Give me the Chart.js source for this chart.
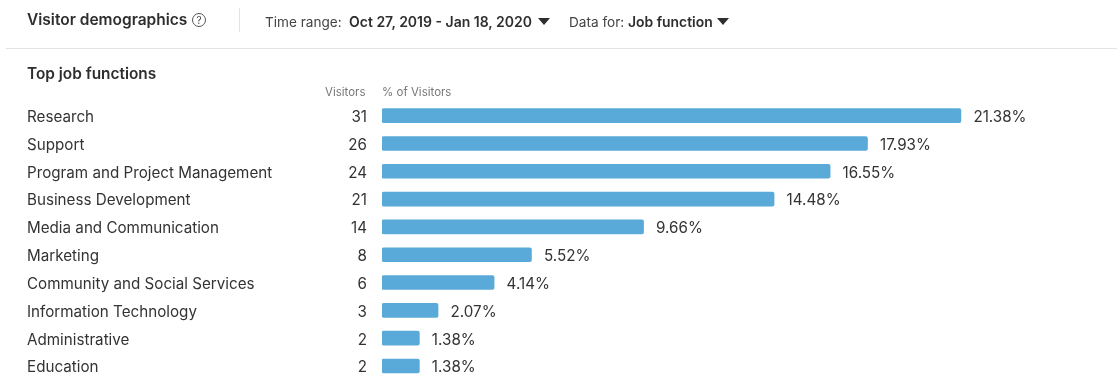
<!DOCTYPE html>
<html>
<head>
<meta charset="utf-8">
<title>Visitor demographics</title>
<script src="https://cdn.jsdelivr.net/npm/chart.js@4/dist/chart.umd.min.js"></script>
<style>
  html, body { margin: 0; padding: 0; background: #fff; overflow: hidden; }
  body { width: 1117px; height: 374px; position: relative; font-family: Inter, Roboto, sans-serif; color: #2e2e2e; }
  .txt { position: absolute; white-space: nowrap; line-height: 18px; }
  .b { font-weight: 600; }
  .tri { position: absolute; width: 0; height: 0; border-left: 6.5px solid transparent; border-right: 6.5px solid transparent; border-top: 7px solid #2e2e2e; }
  .help { position: absolute; left: 192px; top: 13px; width: 12px; height: 12px; border: 1px solid #555; border-radius: 50%; font-size: 10px; line-height: 12px; text-align: center; color: #444; }
  #sep { position: absolute; left: 239px; top: 8px; width: 1px; height: 24px; background: #e4e4e4; }
  #rule { position: absolute; left: 6px; right: 0; top: 48px; height: 1px; background: #e3e3e3; }
  #wrap { position: absolute; left: 0; top: 0; width: 1117px; height: 392px; }
</style>
</head>
<body>
<div id="wrap"><canvas id="barChart"></canvas></div>

<div class="txt b" style="left:27px;top:11px;font-size:15.5px">Visitor demographics</div>
<div class="help">?</div>
<div id="sep"></div>
<div class="txt" style="left:265px;top:13px;font-size:13.6px;color:#444">Time range:</div>
<div class="txt b" style="left:349px;top:13px;font-size:14px">Oct 27, 2019 - Jan 18, 2020</div>
<div class="tri" style="left:538px;top:18px"></div>
<div class="txt" style="left:569px;top:13px;font-size:13.6px;color:#444">Data for:</div>
<div class="txt b" style="left:628px;top:13px;font-size:13.9px">Job function</div>
<div class="tri" style="left:717px;top:18px"></div>
<div id="rule"></div>
<div class="txt b" style="left:27px;top:65px;font-size:15.4px">Top job functions</div>
<div class="txt" style="left:325px;top:83px;font-size:11.5px;color:#777">Visitors</div>
<div class="txt" style="left:382px;top:83px;font-size:11.5px;color:#777">% of Visitors</div>

<script>
var jobFunctions = ['Research', 'Support', 'Program and Project Management', 'Business Development',
  'Media and Communication', 'Marketing', 'Community and Social Services', 'Information Technology',
  'Administrative', 'Education'];
var visitors = [31, 26, 24, 21, 14, 8, 6, 3, 2, 2];
var visitorShare = [21.38, 17.93, 16.55, 14.48, 9.66, 5.52, 4.14, 2.07, 1.38, 1.38];

var rowFont = '15.2px Inter, Roboto, sans-serif';

// writes the count left of each bar and the percentage after its end
var rowValues = {
  id: 'rowValues',
  afterDatasetsDraw: function (chart) {
    var c = chart.ctx;
    var bars = chart.getDatasetMeta(0).data;
    c.save();
    c.font = rowFont;
    c.fillStyle = '#333';
    c.textBaseline = 'middle';
    bars.forEach(function (bar, i) {
      c.textAlign = 'right';
      c.fillText(visitors[i], 367, bar.y + 1.8);
      c.textAlign = 'left';
      c.fillText(visitorShare[i].toFixed(2) + '%', bar.x + 12.5, bar.y + 1.8);
    });
    c.restore();
  }
};

var ctx = document.getElementById('barChart').getContext('2d');
var chart = new Chart(ctx, {
  type: 'bar',
  data: {
    labels: jobFunctions,
    datasets: [{
      label: '% of Visitors',
      data: visitorShare,
      backgroundColor: '#59aad9',
      borderRadius: 2,
      borderSkipped: false,
      barThickness: 14
    }]
  },
  options: {
    indexAxis: 'y',
    responsive: true,
    maintainAspectRatio: false,
    animation: false,
    layout: { padding: { left: 27, right: 31, top: 101.75, bottom: 10.75 } },
    plugins: { legend: { display: false }, tooltip: { enabled: false } },
    scales: {
      x: { display: false, min: 0, max: 26 },
      y: {
        grid: { display: false },
        border: { display: false },
        afterFit: function (scale) { scale.width = 355; },
        ticks: {
          crossAlign: 'far',
          autoSkip: false,
          labelOffset: 1.8,
          color: '#333',
          font: { family: 'Inter, Roboto, sans-serif', size: 15.2 }
        }
      }
    }
  },
  plugins: [rowValues]
});
</script>
</body>
</html>
